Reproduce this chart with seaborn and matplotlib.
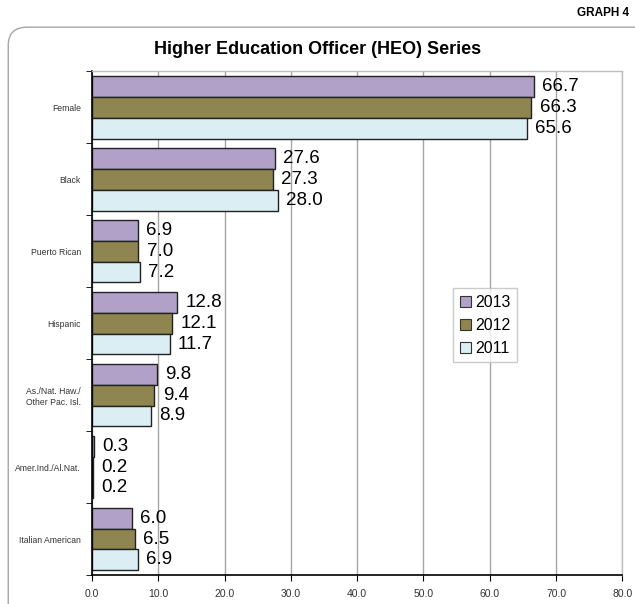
import numpy as np
import pandas as pd
import matplotlib
matplotlib.use('Agg')
import matplotlib.pyplot as plt
from matplotlib.patches import FancyBboxPatch
from matplotlib.ticker import MultipleLocator, FixedLocator, FuncFormatter
import seaborn as sns

categories = ['Female', 'Black', 'Puerto Rican', 'Hispanic',
              'As./Nat. Haw./\nOther Pac. Isl.', 'Amer.Ind./Al.Nat.', 'Italian American']
years = ['2013', '2012', '2011']
vals_2013 = [66.7, 27.6, 6.9, 12.8, 9.8, 0.3, 6.0]
vals_2012 = [66.3, 27.3, 7.0, 12.1, 9.4, 0.2, 6.5]
vals_2011 = [65.6, 28.0, 7.2, 11.7, 8.9, 0.2, 6.9]
colors = ['#B1A0C7', '#8E8550', '#DAEEF3']

df = pd.DataFrame({
    'group': categories * 3,
    'year': ['2013'] * 7 + ['2012'] * 7 + ['2011'] * 7,
    'value': vals_2013 + vals_2012 + vals_2011,
})

sns.set_style('white')
plt.rcParams['font.family'] = ['Liberation Sans', 'DejaVu Sans']
plt.rcParams['text.color'] = 'black'

fig = plt.figure(figsize=(6.35, 6.04), dpi=100)
ax = fig.add_axes([0.145, 0.048, 0.835, 0.834])

sns.barplot(data=df, y='group', x='value', hue='year', hue_order=years,
            order=categories, palette=colors, orient='h', width=0.87,
            edgecolor='#222222', linewidth=1.0, ax=ax, saturation=1)

for cont in ax.containers:
    ax.bar_label(cont, fmt='%.1f', padding=6, fontsize=13.5, color='black')

ax.set_xlim(0, 80)
ax.set_ylim(6.5, -0.5)
ax.xaxis.set_major_locator(MultipleLocator(10))
ax.xaxis.set_major_formatter(FuncFormatter(lambda v, p: '%.1f' % v))
ax.grid(axis='x', color='#A6A6A6', linewidth=1)
ax.set_axisbelow(True)
ax.set_xlabel('')
ax.set_ylabel('')

nfont = ['Liberation Sans Narrow', 'Liberation Sans', 'DejaVu Sans']
for lab in ax.get_yticklabels():
    lab.set_fontfamily(nfont)
    lab.set_fontsize(6.2)
    lab.set_color('#333333')
    lab.set_multialignment('center')
for lab in ax.get_xticklabels():
    lab.set_fontfamily(nfont)
    lab.set_fontsize(7.5)
    lab.set_color('#333333')

ax.tick_params(axis='y', which='major', length=0, pad=8)
ax.yaxis.set_minor_locator(FixedLocator(np.arange(-0.5, 7, 1)))
ax.tick_params(axis='y', which='minor', length=4, color='black', left=True)
ax.tick_params(axis='x', length=4, color='black', bottom=True, pad=6)

for s in ['left', 'bottom']:
    ax.spines[s].set_color('black')
    ax.spines[s].set_linewidth(1.2)
for s in ['top', 'right']:
    ax.spines[s].set_color('#BFBFBF')
    ax.spines[s].set_linewidth(1)

leg = ax.legend(loc='upper left', bbox_to_anchor=(0.681, 0.569), frameon=True,
                fontsize=11.5, handlelength=0.7, handleheight=0.7,
                handletextpad=0.3, labelspacing=0.5, borderpad=0.4,
                borderaxespad=0, fancybox=False, edgecolor='#BFBFBF')
leg.get_frame().set_linewidth(1)
for t in leg.get_texts():
    t.set_color('black')
for h in leg.legend_handles:
    h.set_edgecolor('#333333')
    h.set_linewidth(0.8)

fig.patches.append(FancyBboxPatch((0.013, -0.05), 1.05, 1.005,
                                  boxstyle='round,pad=0,rounding_size=0.03',
                                  transform=fig.transFigure, fill=False,
                                  edgecolor='#A6A6A6', linewidth=1))
fig.text(0.5, 0.918, 'Higher Education Officer (HEO) Series', ha='center', va='center',
         fontsize=13, fontweight='heavy', color='black')
fig.text(0.99, 0.978, 'GRAPH 4', ha='right', va='center', fontsize=8.5,
         fontweight='bold', color='black')

fig.savefig('out.png', dpi=100)
